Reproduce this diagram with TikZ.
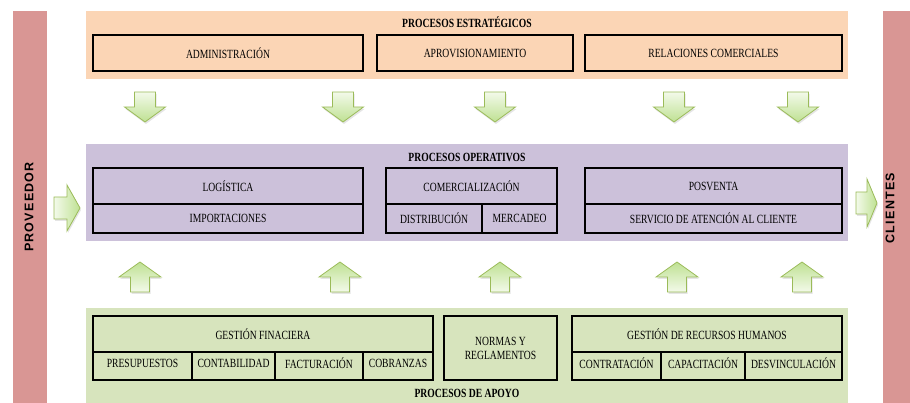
\documentclass[tikz,border=0pt]{standalone}
\usepackage{fontspec}
\setmainfont{Liberation Serif}[FakeStretch=0.77]
\newfontfamily\barfont{Liberation Sans}[LetterSpace=10]

\definecolor{barpink}{HTML}{D99694}
\definecolor{stratfill}{HTML}{FBD5B5}
\definecolor{operfill}{HTML}{CCC1DA}
\definecolor{apoyofill}{HTML}{D7E4BD}
\definecolor{arrlight}{HTML}{F3FAEA}
\definecolor{arrdark}{HTML}{BFE193}
\definecolor{arredge}{HTML}{9BBB59}

% block arrows, drawn from their centre line
\newcommand\downarr[1]{%
  \fill[arrshadow] ({#1-9.5},94) -- ({#1+11.5},94) -- ({#1+11.5},109) -- ({#1+21.5},109)
    -- ({#1+1},124) -- ({#1-19.5},109) -- ({#1-9.5},109) -- cycle;
  \draw[arrline, top color=arrlight, bottom color=arrdark]
    ({#1-10.5},92) -- ({#1+10.5},92) -- ({#1+10.5},107) -- ({#1+20.5},107)
    -- (#1,122) -- ({#1-20.5},107) -- ({#1-10.5},107) -- cycle;}
\newcommand\uparr[1]{%
  \fill[arrshadow] ({#1+1},264) -- ({#1+22},279) -- ({#1+10.5},279) -- ({#1+10.5},294)
    -- ({#1-8.5},294) -- ({#1-8.5},279) -- ({#1-20},279) -- cycle;
  \draw[arrline, top color=arrdark, bottom color=arrlight]
    (#1,262) -- ({#1+21},277) -- ({#1+9.5},277) -- ({#1+9.5},292)
    -- ({#1-9.5},292) -- ({#1-9.5},277) -- ({#1-21},277) -- cycle;}
% right arrow: #1 tail x, #2 centre y, #3 head half height, #4 shaft length, #5 head length
\newcommand\rightarr[5]{%
  \fill[arrshadow] ({#1+1},{#2-9}) -- ({#1+#4+1},{#2-9}) -- ({#1+#4+1},{#2-#3+2})
    -- ({#1+#4+#5+1},{#2+2}) -- ({#1+#4+1},{#2+#3+2}) -- ({#1+#4+1},{#2+13}) -- ({#1+1},{#2+13}) -- cycle;
  \draw[arrline, left color=arrlight, right color=arrdark]
    (#1,{#2-11}) -- ({#1+#4},{#2-11}) -- ({#1+#4},{#2-#3})
    -- ({#1+#4+#5},#2) -- ({#1+#4},{#2+#3}) -- ({#1+#4},{#2+11}) -- (#1,{#2+11}) -- cycle;}

\begin{document}
\begin{tikzpicture}[x=1pt, y=-1pt,
  every node/.style={font=\fontsize{12.5}{14}\selectfont},
  band/.style={fill=#1, draw=none, inner sep=0, minimum width=762},
  sidebar/.style={fill=barpink, draw=none, inner sep=0, minimum height=392},
  bartext/.style={rotate=90, font=\barfont\bfseries\fontsize{12.5}{13}\selectfont},
  title/.style={font=\bfseries\fontsize{12.5}{13}\selectfont, inner sep=0},
  cell/.style={draw=black, line width=1.1pt, inner sep=0, align=center},
  arrline/.style={draw=arredge, line width=0.8pt, line join=miter},
  arrshadow/.style={fill=black, opacity=0.10},
]
\useasboundingbox (0,0) rectangle (910,403);

% side bars
\node[sidebar, minimum width=34] (prov) at (30,207) {};
\node[sidebar, minimum width=27] (cli) at (896.5,207) {};
\node[bartext] (provtxt) at (29,207) {PROVEEDOR};
\node[bartext] (clitxt) at (890,208) {CLIENTES};

% process bands
\node[band=stratfill, minimum height=68] (strat) at (467,45) {};
\node[band=operfill, minimum height=97] (oper) at (467,192.5) {};
\node[band=apoyofill, minimum height=95] (apoyo) at (467,355.5) {};

\node[title] (strattitle) at (467,22) {PROCESOS ESTRATÉGICOS};
\node[title] (opertitle) at (467,157) {PROCESOS OPERATIVOS};
\node[title] (apoyotitle) at (467,393) {PROCESOS DE APOYO};

% strategic processes
\node[cell, minimum width=270, minimum height=36] (adm) at (228,53) {ADMINISTRACIÓN};
\node[cell, minimum width=196, minimum height=36] (apr) at (475,53) {APROVISIONAMIENTO};
\node[cell, minimum width=257, minimum height=36] (rel) at (713.5,53) {RELACIONES COMERCIALES};

% operative processes
\node[cell, minimum width=270, minimum height=36] (log) at (228,186) {LOGÍSTICA};
\node[cell, minimum width=270, minimum height=29] (imp) at (228,218.5) {IMPORTACIONES};
\node[cell, minimum width=171, minimum height=36] (com) at (471.5,186) {COMERCIALIZACIÓN};
\node[cell, minimum width=96, minimum height=29] (dis) at (434,218.5) {DISTRIBUCIÓN};
\node[cell, minimum width=75, minimum height=29] (mer) at (519.5,218.5) {MERCADEO};
\node[cell, minimum width=257, minimum height=36] (pos) at (713.5,186) {POSVENTA};
\node[cell, minimum width=257, minimum height=29] (ser) at (713.5,218.5) {SERVICIO DE ATENCIÓN AL CLIENTE};

% support processes
\node[cell, minimum width=340, minimum height=36] (gf) at (263,334) {GESTIÓN FINACIERA};
\node[cell, minimum width=99, minimum height=28] (pre) at (142.5,366) {\raisebox{5pt}{PRESUPUESTOS}};
\node[cell, minimum width=83, minimum height=28] (con) at (233.5,366) {\raisebox{5pt}{CONTABILIDAD}};
\node[cell, minimum width=88, minimum height=28] (fac) at (319,366) {\raisebox{5pt}{FACTURACIÓN}};
\node[cell, minimum width=70, minimum height=28] (cob) at (398,366) {\raisebox{5pt}{COBRANZAS}};
\node[cell, minimum width=113, minimum height=64] (nor) at (500.5,348) {NORMAS Y\\REGLAMENTOS};
\node[cell, minimum width=270, minimum height=36] (rh) at (707,334) {GESTIÓN DE RECURSOS HUMANOS};
\node[cell, minimum width=89, minimum height=28] (ctr) at (616.5,366) {\raisebox{5pt}{CONTRATACIÓN}};
\node[cell, minimum width=84, minimum height=28] (cap) at (703,366) {\raisebox{5pt}{CAPACITACIÓN}};
\node[cell, minimum width=97, minimum height=28] (des) at (793.5,366) {\raisebox{5pt}{DESVINCULACIÓN}};

% flow arrows
\downarr{145}
\downarr{343}
\downarr{495}
\downarr{674}
\downarr{798}
\uparr{140}
\uparr{340}
\uparr{500}
\uparr{677}
\uparr{802}
\rightarr{54}{208}{23}{13}{13}
\rightarr{856}{203}{24}{11}{10}
\end{tikzpicture}
\end{document}
